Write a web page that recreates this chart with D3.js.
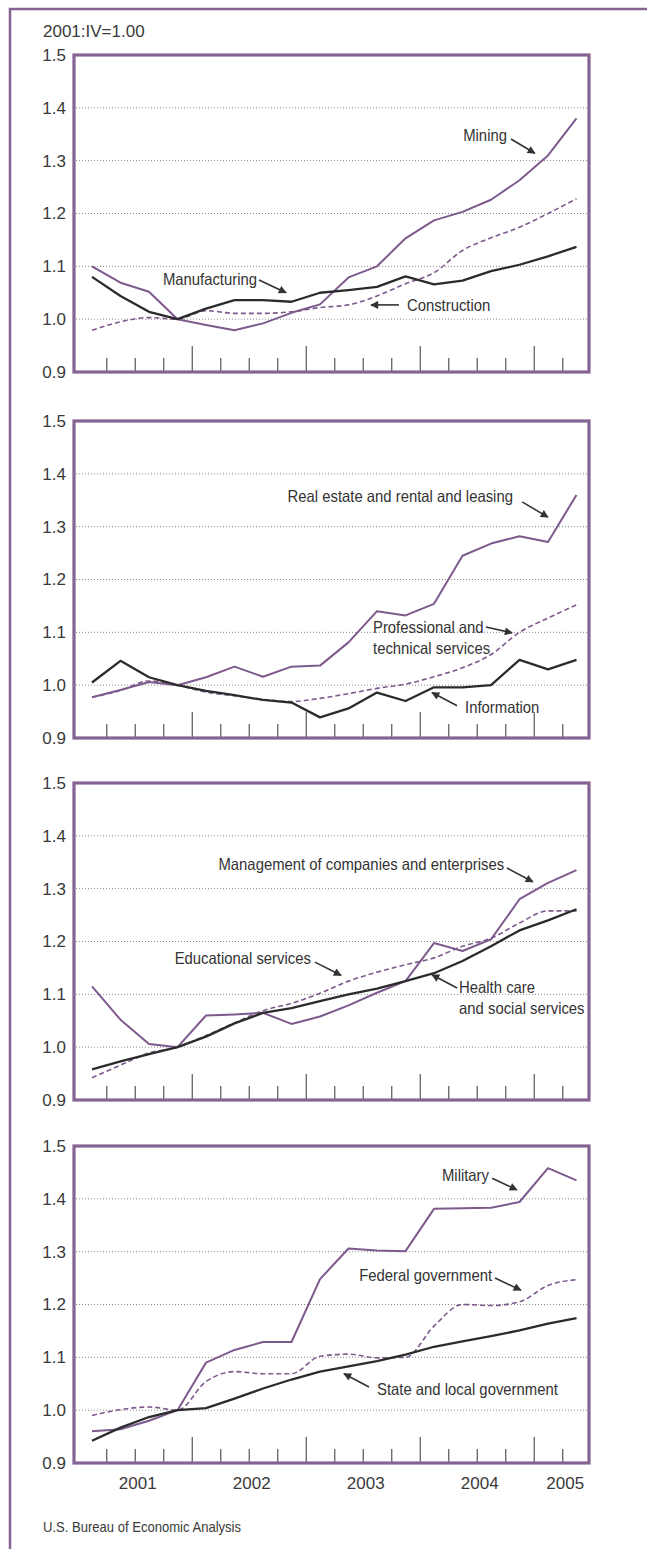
<!DOCTYPE html>
<html>
<head>
<meta charset="utf-8">
<script src="https://cdn.jsdelivr.net/npm/d3@7"></script>
<style>
  body { margin: 0; background: #fff; }
  svg text { font-family: "Liberation Sans", Arial, Helvetica, sans-serif; fill: #3a3a3a; }
</style>
</head>
<body>
<svg id="chart"></svg>
<script>
// quarters 2001:I .. 2005:II
const quarters = ["2001:I","2001:II","2001:III","2001:IV",
  "2002:I","2002:II","2002:III","2002:IV",
  "2003:I","2003:II","2003:III","2003:IV",
  "2004:I","2004:II","2004:III","2004:IV",
  "2005:I","2005:II"];
const yTicks = [0.9, 1.0, 1.1, 1.2, 1.3, 1.4, 1.5];

// panel 1
const mining        = [1.100, 1.069, 1.052, 1.000, 0.989, 0.979, 0.992, 1.012, 1.028, 1.079, 1.100, 1.153, 1.187, 1.203, 1.226, 1.263, 1.310, 1.380];
const manufacturing = [1.080, 1.044, 1.014, 1.000, 1.020, 1.036, 1.036, 1.033, 1.050, 1.055, 1.061, 1.081, 1.066, 1.073, 1.091, 1.103, 1.119, 1.137];
const construction  = [0.979, 0.995, 1.003, 1.000, 1.016, 1.011, 1.011, 1.014, 1.022, 1.027, 1.044, 1.067, 1.088, 1.130, 1.154, 1.174, 1.200, 1.228];
// panel 2
const realEstate    = [0.977, 0.991, 1.006, 1.000, 1.015, 1.035, 1.016, 1.035, 1.037, 1.081, 1.140, 1.132, 1.154, 1.245, 1.268, 1.282, 1.271, 1.360];
const professional  = [0.977, 0.990, 1.008, 1.000, 0.987, 0.980, 0.973, 0.969, 0.975, 0.984, 0.994, 1.002, 1.016, 1.033, 1.058, 1.100, 1.127, 1.152];
const information   = [1.005, 1.046, 1.015, 1.000, 0.989, 0.981, 0.972, 0.967, 0.939, 0.956, 0.986, 0.970, 0.996, 0.996, 1.000, 1.048, 1.030, 1.048];
// panel 3
const management    = [1.115, 1.052, 1.006, 1.000, 1.060, 1.062, 1.065, 1.044, 1.058, 1.079, 1.103, 1.125, 1.197, 1.182, 1.204, 1.280, 1.311, 1.335];
const healthCare    = [0.958, 0.973, 0.987, 1.000, 1.020, 1.045, 1.065, 1.074, 1.087, 1.100, 1.111, 1.125, 1.140, 1.163, 1.191, 1.221, 1.240, 1.261];
const educational   = [0.942, 0.966, 0.989, 1.000, 1.022, 1.046, 1.069, 1.083, 1.102, 1.125, 1.142, 1.156, 1.169, 1.191, 1.206, 1.235, 1.258, 1.258];
// panel 4
const military      = [0.960, 0.964, 0.980, 1.000, 1.090, 1.114, 1.129, 1.129, 1.248, 1.306, 1.302, 1.301, 1.381, 1.382, 1.383, 1.394, 1.458, 1.435];
const federal       = [0.990, 1.001, 1.006, 1.000, 1.054, 1.073, 1.069, 1.069, 1.102, 1.106, 1.099, 1.100, 1.159, 1.200, 1.198, 1.205, 1.236, 1.247];
const stateLocal    = [0.942, 0.967, 0.987, 1.000, 1.004, 1.022, 1.041, 1.058, 1.073, 1.083, 1.093, 1.105, 1.120, 1.130, 1.140, 1.151, 1.164, 1.174];

// labels: text lines, anchor (quarter index, value), arrow from -> to in the same units
const notes1 = [
  { lines: ["Mining"], at: [14.56, 1.349], anchor: "end", arrow: [[14.70, 1.341], [15.54, 1.314]] },
  { lines: ["Manufacturing"], at: [5.79, 1.076], anchor: "end", arrow: [[5.86, 1.074], [6.81, 1.050]] },
  { lines: ["Construction"], at: [11.05, 1.027], anchor: "start", arrow: [[10.77, 1.027], [9.79, 1.027]] }
];
const notes2 = [
  { lines: ["Real estate and rental and leasing"], at: [14.77, 1.358], anchor: "end", arrow: [[15.09, 1.347], [16.0, 1.318]] },
  { lines: ["Professional and", "technical services"], at: [9.86, 1.110], anchor: "start", arrow: [[13.82, 1.110], [14.74, 1.099]] },
  { lines: ["Information"], at: [13.09, 0.959], anchor: "start", arrow: [[12.81, 0.961], [11.93, 0.986]] }
];
const notes3 = [
  { lines: ["Management of companies and enterprises"], at: [14.46, 1.347], anchor: "end", arrow: [[14.56, 1.339], [15.47, 1.313]] },
  { lines: ["Educational services"], at: [7.68, 1.169], anchor: "end", arrow: [[7.82, 1.161], [8.74, 1.136]] },
  { lines: ["Health care", "and social services"], at: [12.88, 1.114], anchor: "start", arrow: [[12.81, 1.112], [11.93, 1.137]] }
];
const notes4 = [
  { lines: ["Military"], at: [13.93, 1.445], anchor: "end", arrow: [[14.04, 1.439], [14.91, 1.417]] },
  { lines: ["Federal government"], at: [14.04, 1.256], anchor: "end", arrow: [[14.14, 1.250], [15.05, 1.227]] },
  { lines: ["State and local government"], at: [10.0, 1.040], anchor: "start", arrow: [[9.72, 1.044], [8.84, 1.069]] }
];

const purple = "#7d5a8d";
const frameColor = "#856494";
const dark = "#2b2b2b";

const panels = [
  { top: 55,   series: [[construction, "dash"], [mining, "purple"], [manufacturing, "black"]], notes: notes1 },
  { top: 421,  series: [[professional, "dash"], [realEstate, "purple"], [information, "black"]], notes: notes2 },
  { top: 783,  series: [[educational, "dash"], [management, "purple"], [healthCare, "black"]], notes: notes3 },
  { top: 1146, series: [[federal, "dash"], [military, "purple"], [stateLocal, "black"]], notes: notes4 }
];

const width = 647, height = 1549;
const frameLeft = 74, frameRight = 589, panelH = 317;

const svg = d3.select("#chart").attr("width", width).attr("height", height);

svg.append("defs").append("marker")
  .attr("id", "head")
  .attr("viewBox", "0 0 10 10")
  .attr("refX", 9).attr("refY", 5)
  .attr("markerWidth", 11).attr("markerHeight", 8)
  .attr("markerUnits", "userSpaceOnUse")
  .attr("orient", "auto")
  .append("path").attr("d", "M0,0 L10,5 L0,10 z").attr("fill", "#333");

// squeeze text a little, the original uses a condensed face
function condense(sel, k) {
  sel.each(function () {
    const w = this.getComputedTextLength();
    d3.select(this).attr("textLength", w * k).attr("lengthAdjust", "spacingAndGlyphs");
  });
}

// outer frame (left + top only)
svg.append("path")
  .attr("d", `M10,${height} V9 H${width}`)
  .attr("fill", "none").attr("stroke", frameColor).attr("stroke-width", 2.5);

svg.append("text").attr("x", 43).attr("y", 31).attr("dy", "0.35em")
  .style("font-size", "17px").text("2001:IV=1.00");

const x = d3.scaleLinear().domain([0, quarters.length - 1]).range([92, 576.5]);
const bounds = d3.range(quarters.length - 1).map(i => i + 0.5);
const isMajor = b => quarters[Math.ceil(b)].endsWith(":I");

panels.forEach((p, pi) => {
  const y = d3.scaleLinear().domain([0.9, 1.5]).range([p.top + panelH, p.top]);
  const g = svg.append("g");

  // grid
  g.selectAll(".grid").data(yTicks.slice(1, -1)).join("line")
    .attr("x1", frameLeft + 2).attr("x2", frameRight - 2)
    .attr("y1", d => y(d)).attr("y2", d => y(d))
    .attr("stroke", "#8a8a8a").attr("stroke-width", 1).attr("stroke-dasharray", "1,2");

  // y axis labels
  const yAxis = d3.axisLeft(y).tickValues(yTicks).tickSize(0).tickPadding(8).tickFormat(d3.format(".1f"));
  g.append("g").attr("transform", `translate(${frameLeft},0)`).call(yAxis)
    .call(a => a.select(".domain").remove())
    .selectAll("text").style("font-size", "17px").attr("fill", "#3a3a3a");

  // quarter ticks rising from the bottom
  const xAxis = d3.axisBottom(x).tickValues(bounds).tickSize(-13).tickFormat("");
  g.append("g").attr("transform", `translate(0,${p.top + panelH - 1})`).call(xAxis)
    .call(a => a.select(".domain").remove())
    .selectAll("line")
    .attr("stroke", "#555").attr("stroke-width", 1.2)
    .attr("y2", d => isMajor(d) ? -25 : -13);

  // series
  p.series.forEach(([vals, kind]) => {
    const line = d3.line()
      .x((d, i) => x(i)).y(d => y(d))
      .curve(kind === "dash" ? d3.curveMonotoneX : d3.curveLinear);
    g.append("path").datum(vals)
      .attr("fill", "none")
      .attr("stroke", kind === "black" ? dark : purple)
      .attr("stroke-width", kind === "black" ? 2.3 : kind === "purple" ? 2 : 1.6)
      .attr("stroke-dasharray", kind === "dash" ? "5,3" : null)
      .attr("stroke-linejoin", "round")
      .attr("d", line);
  });

  // frame
  g.append("rect")
    .attr("x", frameLeft).attr("y", p.top)
    .attr("width", frameRight - frameLeft).attr("height", panelH)
    .attr("fill", "none").attr("stroke", frameColor).attr("stroke-width", 3.2);

  // annotations
  p.notes.forEach(n => {
    const t = g.append("text")
      .attr("text-anchor", n.anchor)
      .style("font-size", "16.5px").style("fill", "#333");
    n.lines.forEach((ln, k) => {
      t.append("tspan")
        .attr("x", x(n.at[0]))
        .attr("y", y(n.at[1]) + k * 21)
        .attr("dy", "0.35em").text(ln)
        .call(condense, 0.9);
    });
    g.append("line")
      .attr("x1", x(n.arrow[0][0])).attr("y1", y(n.arrow[0][1]))
      .attr("x2", x(n.arrow[1][0])).attr("y2", y(n.arrow[1][1]))
      .attr("stroke", "#333").attr("stroke-width", 1.6)
      .attr("marker-end", "url(#head)");
  });

  // year labels under the last panel
  if (pi === panels.length - 1) {
    const years = Array.from(d3.group(quarters.map((q, i) => ({ yr: q.slice(0, 4), i })), d => d.yr),
      ([yr, qs]) => ({ yr, c: d3.mean(qs, d => d.i) }));
    g.selectAll(".year").data(years).join("text")
      .attr("x", d => x(d.c) + 3).attr("y", p.top + panelH + 20)
      .attr("dy", "0.35em").attr("text-anchor", "middle")
      .style("font-size", "17px").text(d => d.yr);
  }
});

svg.append("text").attr("x", 43).attr("y", 1527).attr("dy", "0.35em")
  .style("font-size", "14.5px").text("U.S. Bureau of Economic Analysis")
  .call(condense, 0.9);
</script>
</body>
</html>
